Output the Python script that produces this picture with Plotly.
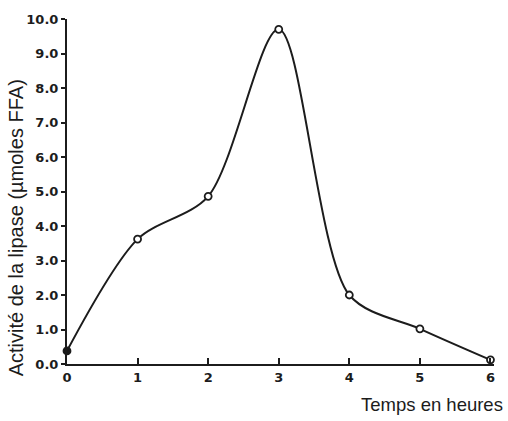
import plotly.graph_objects as go

# Data
hours = [0, 1, 2, 3, 4, 5, 6]
activity = [0.38, 3.62, 4.86, 9.70, 2.00, 1.02, 0.12]
marker_fill = ["#1a1a1a", "white", "white", "white", "white", "white", "white"]

x_ticks = [0, 1, 2, 3, 4, 5, 6]
x_ticklabels = ["0", "1", "2", "3", "4", "5", "6"]
y_ticks = [0, 1, 2, 3, 4, 5, 6, 7, 8, 9, 10]
y_ticklabels = ["0.0", "1.0", "2.0", "3.0", "4.0", "5.0", "6.0", "7.0", "8.0", "9.0", "10.0"]

x_title = "Temps en heures"
y_title = "Activité de la lipase (µmoles FFA)"

INK = "#1c1c1c"

fig = go.Figure()
fig.add_trace(go.Scatter(
    x=hours, y=activity,
    mode="lines+markers",
    line=dict(shape="spline", smoothing=0.85, color=INK, width=2),
    marker=dict(symbol="circle", size=7, color=marker_fill,
                line=dict(color=INK, width=1.8)),
    cliponaxis=False,
    showlegend=False,
))

fig.update_layout(
    width=508, height=421,
    margin=dict(l=67, r=14, t=13, b=57),
    paper_bgcolor="white", plot_bgcolor="white",
    xaxis=dict(
        range=[0, 6.05], tickvals=x_ticks, ticktext=x_ticklabels,
        showgrid=False, zeroline=False,
        showline=True, linecolor=INK, linewidth=2,
        ticks="inside", ticklen=6, tickwidth=2, tickcolor=INK,
        tickfont=dict(family="DejaVu Sans", size=13, color=INK, weight="bold"),
    ),
    yaxis=dict(
        range=[0, 10], tickvals=y_ticks, ticktext=y_ticklabels,
        showgrid=False, zeroline=False,
        showline=True, linecolor=INK, linewidth=2,
        ticks="outside", ticklen=4, tickwidth=2, tickcolor=INK,
        tickfont=dict(family="DejaVu Sans", size=13, color=INK, weight="bold"),
    ),
    annotations=[
        dict(text=x_title, xref="paper", yref="paper",
             x=(505 - 67) / 427, y=(364 - 405) / 351,
             xanchor="right", yanchor="middle", showarrow=False,
             font=dict(family="Liberation Sans", size=18.5, color=INK)),
        dict(text=y_title, xref="paper", yref="paper",
             x=(16 - 67) / 427, y=(364 - 226) / 351,
             xanchor="center", yanchor="middle", textangle=-90, showarrow=False,
             font=dict(family="Liberation Sans", size=20, color=INK)),
    ],
)

fig.write_html("out.html")
